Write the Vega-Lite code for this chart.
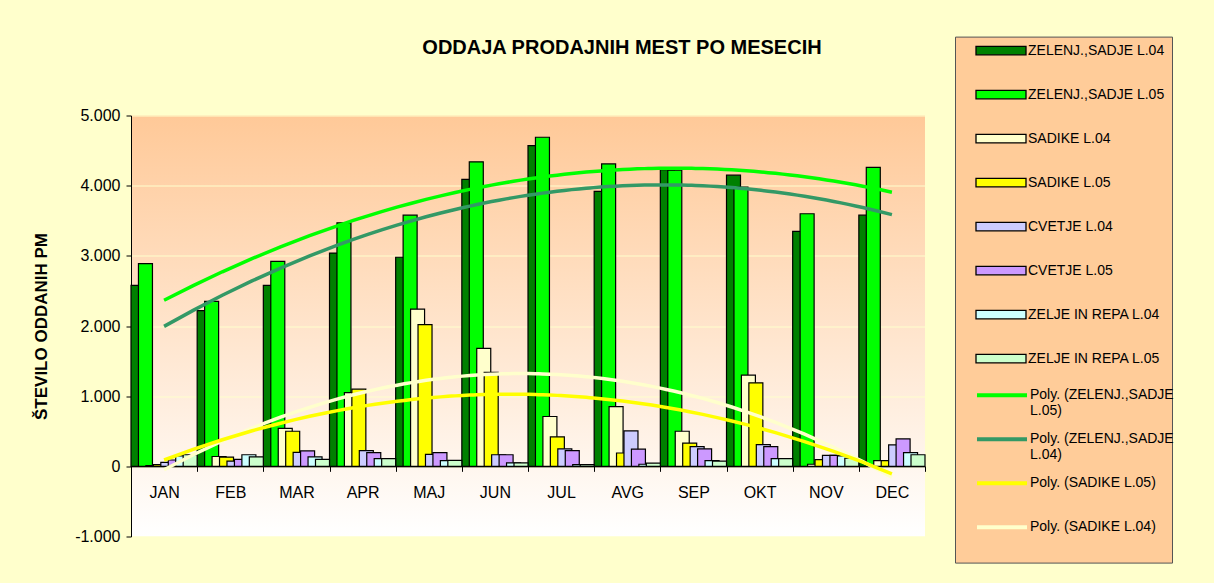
{
  "$schema": "https://vega.github.io/schema/vega-lite/v6.json",
  "width": 794,
  "height": 421,
  "autosize": {"type": "none"},
  "padding": {"left": 131, "top": 115.5, "right": 289, "bottom": 46.5},
  "background": "#FFFFCC",
  "title": {
    "text": "ODDAJA PRODAJNIH MEST PO MESECIH",
    "fontSize": 20,
    "fontWeight": "bold",
    "font": "Liberation Sans",
    "color": "black",
    "anchor": "middle",
    "frame": "group",
    "dx": 94,
    "offset": -32,
    "baseline": "middle"
  },
  "data": {
    "values": [
      {"month": "JAN", "m": 1, "series": "ZELENJ.,SADJE  L.04", "trend": "Poly. (ZELENJ.,SADJE L.04)", "v": 2580},
      {"month": "FEB", "m": 2, "series": "ZELENJ.,SADJE  L.04", "trend": "Poly. (ZELENJ.,SADJE L.04)", "v": 2220},
      {"month": "MAR", "m": 3, "series": "ZELENJ.,SADJE  L.04", "trend": "Poly. (ZELENJ.,SADJE L.04)", "v": 2580},
      {"month": "APR", "m": 4, "series": "ZELENJ.,SADJE  L.04", "trend": "Poly. (ZELENJ.,SADJE L.04)", "v": 3040},
      {"month": "MAJ", "m": 5, "series": "ZELENJ.,SADJE  L.04", "trend": "Poly. (ZELENJ.,SADJE L.04)", "v": 2980},
      {"month": "JUN", "m": 6, "series": "ZELENJ.,SADJE  L.04", "trend": "Poly. (ZELENJ.,SADJE L.04)", "v": 4090},
      {"month": "JUL", "m": 7, "series": "ZELENJ.,SADJE  L.04", "trend": "Poly. (ZELENJ.,SADJE L.04)", "v": 4570},
      {"month": "AVG", "m": 8, "series": "ZELENJ.,SADJE  L.04", "trend": "Poly. (ZELENJ.,SADJE L.04)", "v": 3920},
      {"month": "SEP", "m": 9, "series": "ZELENJ.,SADJE  L.04", "trend": "Poly. (ZELENJ.,SADJE L.04)", "v": 4230},
      {"month": "OKT", "m": 10, "series": "ZELENJ.,SADJE  L.04", "trend": "Poly. (ZELENJ.,SADJE L.04)", "v": 4150},
      {"month": "NOV", "m": 11, "series": "ZELENJ.,SADJE  L.04", "trend": "Poly. (ZELENJ.,SADJE L.04)", "v": 3350},
      {"month": "DEC", "m": 12, "series": "ZELENJ.,SADJE  L.04", "trend": "Poly. (ZELENJ.,SADJE L.04)", "v": 3580},

      {"month": "JAN", "m": 1, "series": "ZELENJ.,SADJE  L.05", "trend": "Poly. (ZELENJ.,SADJE L.05)", "v": 2890},
      {"month": "FEB", "m": 2, "series": "ZELENJ.,SADJE  L.05", "trend": "Poly. (ZELENJ.,SADJE L.05)", "v": 2350},
      {"month": "MAR", "m": 3, "series": "ZELENJ.,SADJE  L.05", "trend": "Poly. (ZELENJ.,SADJE L.05)", "v": 2920},
      {"month": "APR", "m": 4, "series": "ZELENJ.,SADJE  L.05", "trend": "Poly. (ZELENJ.,SADJE L.05)", "v": 3470},
      {"month": "MAJ", "m": 5, "series": "ZELENJ.,SADJE  L.05", "trend": "Poly. (ZELENJ.,SADJE L.05)", "v": 3580},
      {"month": "JUN", "m": 6, "series": "ZELENJ.,SADJE  L.05", "trend": "Poly. (ZELENJ.,SADJE L.05)", "v": 4340},
      {"month": "JUL", "m": 7, "series": "ZELENJ.,SADJE  L.05", "trend": "Poly. (ZELENJ.,SADJE L.05)", "v": 4690},
      {"month": "AVG", "m": 8, "series": "ZELENJ.,SADJE  L.05", "trend": "Poly. (ZELENJ.,SADJE L.05)", "v": 4310},
      {"month": "SEP", "m": 9, "series": "ZELENJ.,SADJE  L.05", "trend": "Poly. (ZELENJ.,SADJE L.05)", "v": 4220},
      {"month": "OKT", "m": 10, "series": "ZELENJ.,SADJE  L.05", "trend": "Poly. (ZELENJ.,SADJE L.05)", "v": 3980},
      {"month": "NOV", "m": 11, "series": "ZELENJ.,SADJE  L.05", "trend": "Poly. (ZELENJ.,SADJE L.05)", "v": 3600},
      {"month": "DEC", "m": 12, "series": "ZELENJ.,SADJE  L.05", "trend": "Poly. (ZELENJ.,SADJE L.05)", "v": 4260},

      {"month": "JAN", "m": 1, "series": "SADIKE L.04", "trend": "Poly. (SADIKE L.04)", "v": 10},
      {"month": "FEB", "m": 2, "series": "SADIKE L.04", "trend": "Poly. (SADIKE L.04)", "v": 140},
      {"month": "MAR", "m": 3, "series": "SADIKE L.04", "trend": "Poly. (SADIKE L.04)", "v": 540},
      {"month": "APR", "m": 4, "series": "SADIKE L.04", "trend": "Poly. (SADIKE L.04)", "v": 1050},
      {"month": "MAJ", "m": 5, "series": "SADIKE L.04", "trend": "Poly. (SADIKE L.04)", "v": 2240},
      {"month": "JUN", "m": 6, "series": "SADIKE L.04", "trend": "Poly. (SADIKE L.04)", "v": 1680},
      {"month": "JUL", "m": 7, "series": "SADIKE L.04", "trend": "Poly. (SADIKE L.04)", "v": 710},
      {"month": "AVG", "m": 8, "series": "SADIKE L.04", "trend": "Poly. (SADIKE L.04)", "v": 850},
      {"month": "SEP", "m": 9, "series": "SADIKE L.04", "trend": "Poly. (SADIKE L.04)", "v": 500},
      {"month": "OKT", "m": 10, "series": "SADIKE L.04", "trend": "Poly. (SADIKE L.04)", "v": 1300},
      {"month": "NOV", "m": 11, "series": "SADIKE L.04", "trend": "Poly. (SADIKE L.04)", "v": 30},
      {"month": "DEC", "m": 12, "series": "SADIKE L.04", "trend": "Poly. (SADIKE L.04)", "v": 80},

      {"month": "JAN", "m": 1, "series": "SADIKE L.05", "trend": "Poly. (SADIKE L.05)", "v": 25},
      {"month": "FEB", "m": 2, "series": "SADIKE L.05", "trend": "Poly. (SADIKE L.05)", "v": 130},
      {"month": "MAR", "m": 3, "series": "SADIKE L.05", "trend": "Poly. (SADIKE L.05)", "v": 500},
      {"month": "APR", "m": 4, "series": "SADIKE L.05", "trend": "Poly. (SADIKE L.05)", "v": 1100},
      {"month": "MAJ", "m": 5, "series": "SADIKE L.05", "trend": "Poly. (SADIKE L.05)", "v": 2020},
      {"month": "JUN", "m": 6, "series": "SADIKE L.05", "trend": "Poly. (SADIKE L.05)", "v": 1340},
      {"month": "JUL", "m": 7, "series": "SADIKE L.05", "trend": "Poly. (SADIKE L.05)", "v": 420},
      {"month": "AVG", "m": 8, "series": "SADIKE L.05", "trend": "Poly. (SADIKE L.05)", "v": 190},
      {"month": "SEP", "m": 9, "series": "SADIKE L.05", "trend": "Poly. (SADIKE L.05)", "v": 330},
      {"month": "OKT", "m": 10, "series": "SADIKE L.05", "trend": "Poly. (SADIKE L.05)", "v": 1190},
      {"month": "NOV", "m": 11, "series": "SADIKE L.05", "trend": "Poly. (SADIKE L.05)", "v": 95},
      {"month": "DEC", "m": 12, "series": "SADIKE L.05", "trend": "Poly. (SADIKE L.05)", "v": 80},

      {"month": "JAN", "m": 1, "series": "CVETJE L.04", "v": 55},
      {"month": "FEB", "m": 2, "series": "CVETJE L.04", "v": 75},
      {"month": "MAR", "m": 3, "series": "CVETJE L.04", "v": 200},
      {"month": "APR", "m": 4, "series": "CVETJE L.04", "v": 225},
      {"month": "MAJ", "m": 5, "series": "CVETJE L.04", "v": 170},
      {"month": "JUN", "m": 6, "series": "CVETJE L.04", "v": 165},
      {"month": "JUL", "m": 7, "series": "CVETJE L.04", "v": 250},
      {"month": "AVG", "m": 8, "series": "CVETJE L.04", "v": 505},
      {"month": "SEP", "m": 9, "series": "CVETJE L.04", "v": 280},
      {"month": "OKT", "m": 10, "series": "CVETJE L.04", "v": 310},
      {"month": "NOV", "m": 11, "series": "CVETJE L.04", "v": 155},
      {"month": "DEC", "m": 12, "series": "CVETJE L.04", "v": 305},

      {"month": "JAN", "m": 1, "series": "CVETJE L.05", "v": 90},
      {"month": "FEB", "m": 2, "series": "CVETJE L.05", "v": 100},
      {"month": "MAR", "m": 3, "series": "CVETJE L.05", "v": 220},
      {"month": "APR", "m": 4, "series": "CVETJE L.05", "v": 195},
      {"month": "MAJ", "m": 5, "series": "CVETJE L.05", "v": 195},
      {"month": "JUN", "m": 6, "series": "CVETJE L.05", "v": 165},
      {"month": "JUL", "m": 7, "series": "CVETJE L.05", "v": 225},
      {"month": "AVG", "m": 8, "series": "CVETJE L.05", "v": 245},
      {"month": "SEP", "m": 9, "series": "CVETJE L.05", "v": 250},
      {"month": "OKT", "m": 10, "series": "CVETJE L.05", "v": 280},
      {"month": "NOV", "m": 11, "series": "CVETJE L.05", "v": 155},
      {"month": "DEC", "m": 12, "series": "CVETJE L.05", "v": 390},

      {"month": "JAN", "m": 1, "series": "ZELJE IN REPA L.04", "v": 150},
      {"month": "FEB", "m": 2, "series": "ZELJE IN REPA L.04", "v": 165},
      {"month": "MAR", "m": 3, "series": "ZELJE IN REPA L.04", "v": 135},
      {"month": "APR", "m": 4, "series": "ZELJE IN REPA L.04", "v": 110},
      {"month": "MAJ", "m": 5, "series": "ZELJE IN REPA L.04", "v": 80},
      {"month": "JUN", "m": 6, "series": "ZELJE IN REPA L.04", "v": 50},
      {"month": "JUL", "m": 7, "series": "ZELJE IN REPA L.04", "v": 25},
      {"month": "AVG", "m": 8, "series": "ZELJE IN REPA L.04", "v": 30},
      {"month": "SEP", "m": 9, "series": "ZELJE IN REPA L.04", "v": 80},
      {"month": "OKT", "m": 10, "series": "ZELJE IN REPA L.04", "v": 110},
      {"month": "NOV", "m": 11, "series": "ZELJE IN REPA L.04", "v": 150},
      {"month": "DEC", "m": 12, "series": "ZELJE IN REPA L.04", "v": 195},

      {"month": "JAN", "m": 1, "series": "ZELJE IN REPA L.05", "v": 165},
      {"month": "FEB", "m": 2, "series": "ZELJE IN REPA L.05", "v": 135},
      {"month": "MAR", "m": 3, "series": "ZELJE IN REPA L.05", "v": 100},
      {"month": "APR", "m": 4, "series": "ZELJE IN REPA L.05", "v": 110},
      {"month": "MAJ", "m": 5, "series": "ZELJE IN REPA L.05", "v": 85},
      {"month": "JUN", "m": 6, "series": "ZELJE IN REPA L.05", "v": 50},
      {"month": "JUL", "m": 7, "series": "ZELJE IN REPA L.05", "v": 25},
      {"month": "AVG", "m": 8, "series": "ZELJE IN REPA L.05", "v": 45},
      {"month": "SEP", "m": 9, "series": "ZELJE IN REPA L.05", "v": 75},
      {"month": "OKT", "m": 10, "series": "ZELJE IN REPA L.05", "v": 110},
      {"month": "NOV", "m": 11, "series": "ZELJE IN REPA L.05", "v": 115},
      {"month": "DEC", "m": 12, "series": "ZELJE IN REPA L.05", "v": 165}
    ]
  },
  "encoding": {
    "y": {
      "field": "v",
      "type": "quantitative",
      "scale": {"domain": [-1000, 5000], "nice": false},
      "axis": {
        "values": [-1000, 0, 1000, 2000, 3000, 4000, 5000],
        "labelExpr": "replace(replace(format(datum.value, ','), ',', '.'), '−', '-')",
        "title": "ŠTEVILO ODDANIH PM",
        "titleFontSize": 17,
        "titleFontWeight": "bold",
        "titlePadding": 24,
        "labelFontSize": 16,
        "labelPadding": 6,
        "tickSize": 5,
        "grid": true,
        "gridColor": "#FFFFCC",
        "gridWidth": 1,
        "domainColor": "black",
        "tickColor": "black",
        "labelColor": "black",
        "titleColor": "black"
      }
    }
  },
  "layer": [
    {
      "mark": {"type": "bar", "size": 14, "stroke": "black", "strokeWidth": 1.2, "orient": "vertical"},
      "encoding": {
        "x": {
          "field": "month",
          "type": "nominal",
          "scale": {"domain": ["JAN","FEB","MAR","APR","MAJ","JUN","JUL","AVG","SEP","OKT","NOV","DEC"], "paddingInner": 0, "paddingOuter": 0},
          "axis": {
            "title": null,
            "offset": -70.17,
            "tickBand": "extent",
            "labelAngle": 0,
            "labelFontSize": 16,
            "labelPadding": 13,
            "tickSize": 5,
            "domainColor": "black",
            "tickColor": "black",
            "labelColor": "black",
            "grid": false
          }
        },
        "xOffset": {
          "field": "series",
          "type": "nominal",
          "scale": {
            "type": "point",
            "padding": 0.94,
            "domain": ["ZELENJ.,SADJE  L.04","ZELENJ.,SADJE  L.05","SADIKE L.04","SADIKE L.05","CVETJE L.04","CVETJE L.05","ZELJE IN REPA L.04","ZELJE IN REPA L.05"]
          }
        },
        "fill": {
          "field": "series",
          "type": "nominal",
          "scale": {
            "domain": ["ZELENJ.,SADJE  L.04","ZELENJ.,SADJE  L.05","SADIKE L.04","SADIKE L.05","CVETJE L.04","CVETJE L.05","ZELJE IN REPA L.04","ZELJE IN REPA L.05"],
            "range": ["#008000","#00FF00","#FFFFCC","#FFFF00","#CCCCFF","#CC99FF","#CCFFFF","#CCFFCC"]
          },
          "legend": {
            "title": " ",
            "titleOrient": "bottom",
            "titleFontSize": 10,
            "titlePadding": 159,
            "orient": "none",
            "legendX": 824,
            "legendY": -78.9,
            "direction": "vertical",
            "padding": 3,
            "symbolOffset": 32,
            "rowPadding": -14.1,
            "labelOffset": 16,
            "labelFontSize": 14,
            "labelFont": "Liberation Sans",
            "labelColor": "black",
            "labelLimit": 300,
            "fillColor": "#FFCC99",
            "strokeColor": "#555555",
            "symbolSize": 400,
            "symbolType": "M-4.2,0M0,-1M-2.5,-0.425H2.5V0.425H-2.5ZM0,2.96",
            "symbolStrokeColor": "black",
            "symbolStrokeWidth": 1.3
          }
        }
      }
    },
    {
      "transform": [
        {"filter": "datum.trend != null"},
        {"regression": "v", "on": "m", "groupby": ["trend"], "method": "poly", "order": 2}
      ],
      "mark": {"type": "line", "strokeWidth": 3.5},
      "encoding": {
        "x": {"field": "m", "type": "quantitative", "scale": {"domain": [0.5, 12.5], "nice": false, "zero": false}, "axis": null},
        "stroke": {
          "field": "trend",
          "type": "nominal",
          "scale": {
            "domain": ["Poly. (ZELENJ.,SADJE L.05)","Poly. (ZELENJ.,SADJE L.04)","Poly. (SADIKE L.05)","Poly. (SADIKE L.04)"],
            "range": ["#00FF00","#339966","#FFFF00","#FFFFCC"]
          },
          "legend": {
            "title": null,
            "orient": "none",
            "legendX": 824,
            "legendY": 264.8,
            "direction": "vertical",
            "padding": 3,
            "symbolOffset": 32,
            "rowPadding": -22.5,
            "labelOffset": 16,
            "labelFontSize": 14,
            "labelFont": "Liberation Sans",
            "labelColor": "black",
            "labelLimit": 300,
            "labelExpr": "indexof(datum.label, 'Poly. (ZELENJ') == 0 ? [slice(datum.label, 0, 20), slice(datum.label, 21)] : datum.label",
            "symbolSize": 400,
            "symbolType": "M-4.2,0M0,-0.8M-2.5,0H2.5M0,2.35",
            "symbolStrokeWidth": 4
          }
        }
      }
    }
  ],
  "resolve": {"scale": {"x": "independent"}},
  "config": {
    "font": "Liberation Sans",
    "view": {
      "stroke": null,
      "fill": {
        "gradient": "linear",
        "x1": 0, "y1": 0, "x2": 0, "y2": 1,
        "stops": [
          {"offset": 0, "color": "#FFC998"},
          {"offset": 1, "color": "#FFFFFF"}
        ]
      }
    },
    "axis": {"labelFont": "Liberation Sans", "titleFont": "Liberation Sans"}
  }
}
